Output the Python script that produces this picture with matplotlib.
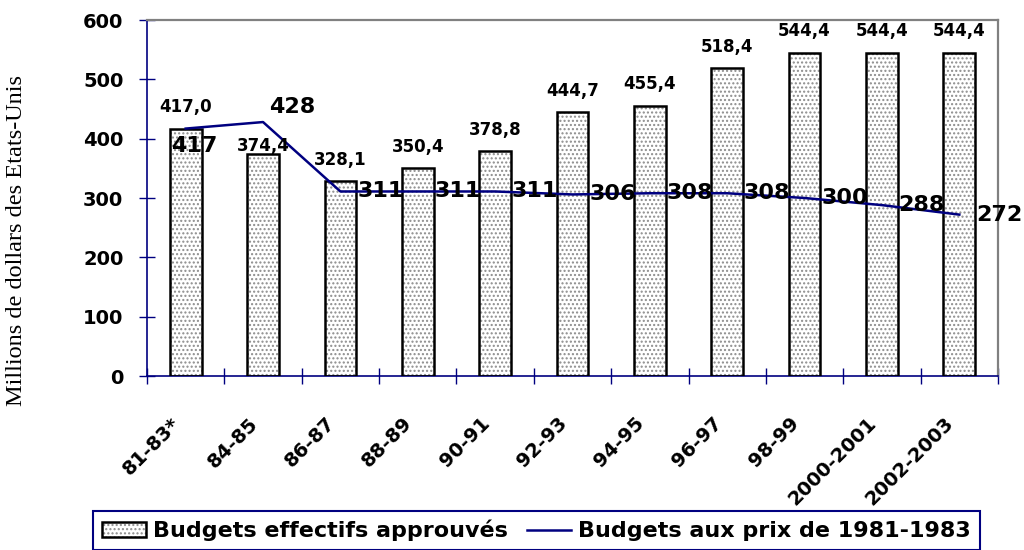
import numpy as np
import matplotlib
matplotlib.use("Agg")
import matplotlib.pyplot as plt
from matplotlib.patches import Patch
from matplotlib.lines import Line2D
from matplotlib.legend_handler import HandlerTuple
from matplotlib.transforms import ScaledTranslation

# Data
periods = ["81-83*", "84-85", "86-87", "88-89", "90-91", "92-93",
           "94-95", "96-97", "98-99", "2000-2001", "2002-2003"]
budgets_effectifs = [417.0, 374.4, 328.1, 350.4, 378.8, 444.7,
                     455.4, 518.4, 544.4, 544.4, 544.4]
budgets_1981 = [417, 428, 311, 311, 311, 306, 308, 308, 300, 288, 272]

NAVY = "#000080"
GREY = "#808080"
DOTS = "#8c8c8c"

# label offsets (points)
bar_label_dy = [9, -1, 9, 9, 9, 9, 9, 9, 9, 9, 9]
line_label_pos = [(6.5, -12.5, "center"), (21, 11, "center")] + [(12, 0, "left")] * 9

fig = plt.figure(figsize=(10.24, 5.5), dpi=100)
ax = fig.add_axes([147 / 1024, 1 - 376 / 550, (998 - 147) / 1024, (376 - 20) / 550])

x = np.arange(len(periods))
width = 0.41

# dotted fill, then black outline on top
ax.bar(x, budgets_effectifs, width, color="white", edgecolor=DOTS,
       hatch="....", linewidth=0, zorder=2)
ax.bar(x, budgets_effectifs, width, color="none", edgecolor="black",
       linewidth=1.8, zorder=3)

ax.plot(x, budgets_1981, color=NAVY, linewidth=1.8, zorder=4)

for i, v in enumerate(budgets_effectifs):
    ax.annotate(f"{v:.1f}".replace(".", ","), (x[i], v),
                xytext=(0, bar_label_dy[i]), textcoords="offset points",
                ha="center", va="bottom", fontsize=12, fontweight="bold",
                zorder=5)

for i, v in enumerate(budgets_1981):
    dx, dy, ha = line_label_pos[i]
    ax.annotate(str(v), (x[i], v), xytext=(dx, dy), textcoords="offset points",
                ha=ha, va="center", fontsize=16, fontweight="bold", zorder=6)

ax.set_xlim(-0.5, len(periods) - 0.5)
ax.set_ylim(0, 600)
ax.set_yticks(range(0, 601, 100))

for side in ["left", "bottom"]:
    ax.spines[side].set_color(NAVY)
    ax.spines[side].set_linewidth(1.2)
for side in ["top", "right"]:
    ax.spines[side].set_color(GREY)
    ax.spines[side].set_linewidth(1.6)

ax.tick_params(axis="y", direction="inout", length=12, width=1, color=NAVY,
               labelsize=14, pad=11)
for lab in ax.get_yticklabels():
    lab.set_fontweight("bold")

ax.set_xticks(x)
ax.set_xticks(np.arange(-0.5, len(periods)), minor=True)
ax.tick_params(axis="x", which="major", length=0, labelsize=14, pad=32)
ax.tick_params(axis="x", which="minor", direction="inout", length=12,
               width=1, color=NAVY)
ax.set_xticklabels(periods)
shift = ScaledTranslation(-6 / 72, 0, fig.dpi_scale_trans)
for lab in ax.get_xticklabels():
    lab.set_fontweight("bold")
    lab.set_rotation(45)
    lab.set_ha("right")
    lab.set_va("center")
    lab.set_rotation_mode("anchor")
    lab.set_transform(lab.get_transform() + shift)

fig.text(17 / 1024, 1 - 241 / 550, "Millions de dollars des Etats-Unis",
         rotation=90, ha="center", va="center", fontsize=17.5,
         family="Liberation Serif")

fill_proxy = Patch(facecolor="white", edgecolor=DOTS, hatch="....", linewidth=0)
edge_proxy = Patch(facecolor="none", edgecolor="black", linewidth=1.8)
line_proxy = Line2D([], [], color=NAVY, linewidth=1.8)
leg = fig.legend(handles=[(fill_proxy, edge_proxy), line_proxy],
                 labels=["Budgets effectifs approuvés", "Budgets aux prix de 1981-1983"],
                 handler_map={tuple: HandlerTuple(ndivide=1, pad=0)},
                 loc="upper left", bbox_to_anchor=(93 / 1024, 1 - 511 / 550),
                 ncol=2, prop={"size": 16, "weight": "bold"},
                 frameon=True, fancybox=False, framealpha=1, edgecolor=NAVY,
                 borderpad=0.4, handlelength=2.0, handletextpad=0.3,
                 columnspacing=0.85, borderaxespad=0)
leg.get_frame().set_linewidth(1.5)

fig.savefig("out.png", dpi=100)
